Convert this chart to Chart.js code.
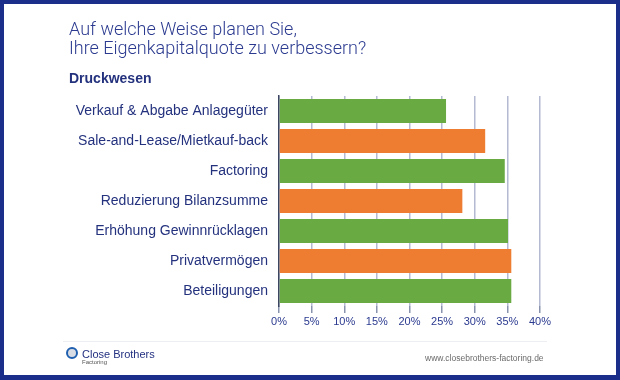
<!DOCTYPE html>
<html>
<head>
<meta charset="utf-8">
<script src="https://cdn.jsdelivr.net/npm/chart.js@4"></script>
<style>
  html, body { margin:0; padding:0; }
  body { width:620px; height:380px; background:#1b2f8a; position:relative; overflow:hidden; font-family:"Liberation Sans", Arial, sans-serif; }
  #panel { position:absolute; left:4px; top:4px; width:612px; height:371px; background:#fff; }
  #c { position:absolute; left:0; top:0; }
  .t { position:absolute; white-space:nowrap; }
  #title { left:69px; top:19px; font-family:Roboto, "Liberation Sans", sans-serif; font-weight:300; font-size:18px; line-height:19px; color:#2b3a8f; }
  #sub { left:69px; top:70px; font-weight:bold; font-size:14px; color:#24327e; }
  #rule { position:absolute; left:63px; top:341px; width:484px; height:1px; background:#eceef2; }
  #logo { position:absolute; left:66px; top:347px; width:8px; height:8px; border:2.5px solid #1f5fb0; border-radius:50%; background:#d8dce4; }
  #brand { left:82px; top:348px; font-size:11px; color:#233080; }
  #fact { left:82px; top:359px; font-size:6px; color:#555; }
  #url { left:425px; top:353px; font-size:8.5px; color:#6b6b6b; }
</style>
</head>
<body>
<div id="panel"></div>
<canvas id="c" width="620" height="380"></canvas>
<div class="t" id="title">Auf welche Weise planen Sie,<br>Ihre Eigenkapitalquote zu verbessern?</div>
<div class="t" id="sub">Druckwesen</div>
<div id="rule"></div>
<div id="logo"></div>
<div class="t" id="brand">Close Brothers</div>
<div class="t" id="fact">Factoring</div>
<div class="t" id="url">www.closebrothers-factoring.de</div>
<script>
const categories = [
  "Verkauf & Abgabe Anlagegüter",
  "Sale-and-Lease/Mietkauf-back",
  "Factoring",
  "Reduzierung Bilanzsumme",
  "Erhöhung Gewinnrücklagen",
  "Privatvermögen",
  "Beteiligungen"
];
const values = [25.6, 31.6, 34.6, 28.1, 35.1, 35.6, 35.6];
const barColors = ["#6aaa43", "#ee7d31", "#6aaa43", "#ee7d31", "#6aaa43", "#ee7d31", "#6aaa43"];
const xTicks = [0, 5, 10, 15, 20, 25, 30, 35, 40];

new Chart(document.getElementById("c"), {
  type: "bar",
  data: {
    labels: categories,
    datasets: [{
      data: values,
      backgroundColor: barColors,
      borderWidth: 0,
      barPercentage: 0.8,
      categoryPercentage: 1.0
    }]
  },
  options: {
    indexAxis: "y",
    responsive: false,
    animation: false,
    layout: { padding: { left: 0, right: 80, top: 96, bottom: 0 } },
    plugins: { legend: { display: false }, tooltip: { enabled: false }, title: { display: false } },
    scales: {
      x: {
        min: 0, max: 40,
        afterBuildTicks: (s) => { s.ticks = xTicks.map(v => ({ value: v })); },
        afterFit: (s) => { s.height = 74; },
        border: { display: false },
        grid: { color: "#b3bad2", lineWidth: 1.5, tickLength: 7, tickColor: "#8a93ad" },
        ticks: {
          callback: (v) => v + "%",
          color: "#2b3a8f",
          font: { family: "Liberation Sans", size: 11 },
          padding: 2,
          maxRotation: 0
        }
      },
      y: {
        afterFit: (s) => { s.width = 279; },
        border: { display: true, color: "#3c4660", width: 1.5 },
        grid: { display: false, drawTicks: false },
        ticks: {
          color: "#24327e",
          font: { family: "Liberation Sans", size: 14 },
          padding: 11
        }
      }
    }
  }
});
</script>
</body>
</html>
